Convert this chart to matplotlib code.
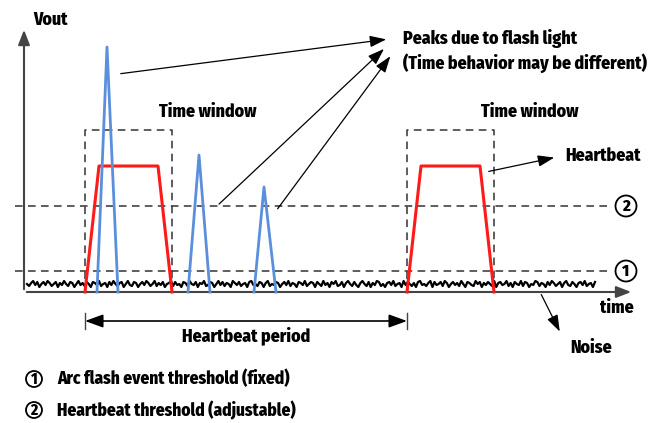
import numpy as np
import matplotlib.pyplot as plt
from matplotlib.patches import Circle

# --- schematic values (time / Vout units, origin at axis corner) ---
period = 322
hb_t = [61, 75, 134, 148]          # heartbeat trapezoid, first pulse
hb_v = [0, 126, 126, 0]
peak_t = [[73, 83, 94], [164, 175, 186], [230, 240, 252]]
peak_v = [245, 137, 105]
window = [61, 148]
window_top = 162
thr_fixed = 21
thr_adj = 86
noise_level = 8
noise = [0, -2, 1, 3, -1, 2, -3, 0, 2, -1, 3, 1, -2, 0, 2, -3, 1, -1, 3, 0,
         -2, 2, 1, -3, 0, 3, -1, 1, -2, 2, 0, -3, 2, 1, -1, 3, -2, 0, 1, -3,
         2, -1, 3, 0, -2, 1, 2, -3, 0, 3, -1, -2, 2, 1, -3, 0, 2, -1, 3, 1,
         -2, 0, 3, -2, 1, -1, 2, -3, 0, 1, 3, -2, 2, -1, 0, -3, 2, 1, -2, 3,
         0, -1, 2, -3, 1, 0, 3, -2, -1, 2, 1, -3, 0, 3, -1, 2, -2, 1, 0, -3,
         3, 1, -1, 2, -2, 0, 1, -3, 2, 3, -1, 0, -2, 2, 1, -3, 1, 3, -2, 0,
         -1, 2, 1, -3, 0, 2, -1, 3, -2, 1, 0, -3, 2, 1, -1, 3, -2, 0, 2,
         1, -3, 2, 0, -2, 3, -1, 1, -3, 2, 0, 3, -2, -1, 2, -3, 1, 3, 0, -2,
         2, -1, -3, 1, 3, 0, -2, 2, -3, 1, -1, 3, 2, -2, 0, -3, 1, 2, -1, 3,
         -2, 0, 1, -3, 3, -1, 2, 0, -2, 1, -3, 2, 3, -1, 0, -2, 1, 3, -3, 2,
         -1, 0, 2, -2, 3, 1, -3, 0, 2, -1, 1, -2, 3, 0, -3, 2, 1, -1, -2, 3,
         0, 2, -3, 1, -1, 2, 0, -2, 3, -3, 1, 2, -1, 0, 3, -2, 1, -3, 2, 0,
         -1, 3, -2, 2, 1, -3, 0, -1, 3, 2, -2, 1, 0, -3, 2, -1, 3, 1, -2, 0,
         2, -3, 1, 3, -1, -2, 2, 0, -3, 1, 2, -1, 3, -2, 0, 1, -3, 2]

x0 = 24
plt.rcParams['font.family'] = ['Fira Sans Condensed', 'DejaVu Sans']
plt.rcParams['font.weight'] = 800
fs = 12.8
red = '#ff1a1a'
blue = '#5a8fdc'
dash = dict(color='#333333', lw=1.1, ls=(0, (5, 3.5)))

fig = plt.figure(figsize=(6.56, 4.23), dpi=100)
ax = fig.add_axes([0, 0, 1, 1])
ax.set_xlim(0, 656)
ax.set_ylim(-131, 292)
ax.axis('off')

def T(t):
    return [x0 + v for v in t]

# axes with arrows
ax.annotate('', xy=(x0, 265), xytext=(x0, 0),
            arrowprops=dict(arrowstyle='-|>,head_width=0.35,head_length=0.9', color='#444444', lw=1.5))
ax.annotate('', xy=(634, 0), xytext=(x0, 0),
            arrowprops=dict(arrowstyle='-|>,head_width=0.35,head_length=0.9', color='#444444', lw=1.5))
ax.text(33, 272, 'Vout', fontsize=fs, va='center')
ax.text(600, -16, 'time', fontsize=fs, va='center')

# noise
nx = np.linspace(x0 + 3, 595, len(noise))
ax.plot(nx, [noise_level + n for n in noise], color='black', lw=1.6, zorder=2)

# thresholds
for y, lab in [(thr_fixed, '1'), (thr_adj, '2')]:
    ax.plot([15, 610], [y, y], **dash, zorder=1)
    ax.add_patch(Circle((626, y), 10.5, fill=False, lw=1.3, color='black'))
    ax.text(626, y - 0.5, lab, ha='center', va='center', fontsize=12)

# time windows
for k in range(2):
    a, b = window[0] + k * period, window[1] + k * period
    ax.plot(T([a, a, b, b]), [0, window_top, window_top, 0], **dash, zorder=1)
    ax.text(x0 + (a + b) / 2 + 79, 180, 'Time window', ha='center', va='center', fontsize=fs)

# heartbeats
for k in range(2):
    ax.plot(T([t + k * period for t in hb_t]), hb_v, color=red, lw=2.2, zorder=3)

# flash peaks
for t, h in zip(peak_t, peak_v):
    ax.plot(T(t), [0, h, 0], color=blue, lw=2.0, zorder=4)

# annotations
ap = dict(arrowstyle='-|>,head_width=0.35,head_length=1.0', color='black', lw=0.9)
ax.annotate('', xy=(389, 253), xytext=(118, 218), arrowprops=ap)
ax.annotate('', xy=(386, 245), xytext=(217, 86), arrowprops=ap)
ax.annotate('', xy=(392, 238), xytext=(276, 81), arrowprops=ap)
ax.text(403, 254, 'Peaks due to flash light', fontsize=fs, va='center')
ax.text(403, 229, '(Time behavior may be different)', fontsize=fs, va='center')

ax.annotate('', xy=(557, 135), xytext=(486, 120), arrowprops=ap)
ax.text(565, 136, 'Heartbeat', fontsize=fs, va='center')

ax.annotate('', xy=(561, -42), xytext=(540, 0), arrowprops=ap)
ax.text(570, -56, 'Noise', fontsize=fs, va='center')

# heartbeat period
pa, pb = x0 + window[0], x0 + window[0] + period
ax.annotate('', xy=(pa, -29), xytext=(pb, -29),
            arrowprops=dict(arrowstyle='<|-|>,head_width=0.4,head_length=1.1', color='black', lw=1.2,
                            shrinkA=0, shrinkB=0))
ax.plot([pa, pa], [-21, -37], color='#444444', lw=1)
ax.plot([pb, pb], [-21, -37], color='#444444', lw=1)
ax.text((pa + pb) / 2, -44, 'Heartbeat period', ha='center', va='center', fontsize=fs)

# legend
for y, lab, txt in [(-87, '1', 'Arc flash event threshold (fixed)'),
                    (-118, '2', 'Heartbeat threshold (adjustable)')]:
    ax.add_patch(Circle((34, y), 8, fill=False, lw=1.3, color='black'))
    ax.text(34, y - 0.5, lab, ha='center', va='center', fontsize=11)
    ax.text(57, y, txt, fontsize=12.5, va='center')

fig.savefig('out.png', dpi=100)
